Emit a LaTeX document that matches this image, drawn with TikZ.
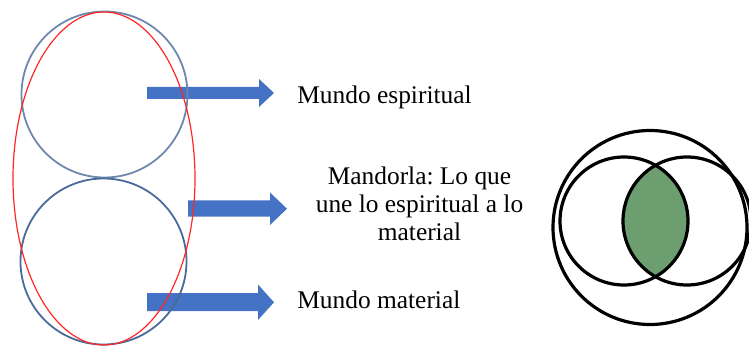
\documentclass[tikz,border=0pt]{standalone}
\usepackage{fontspec}
\setmainfont{Liberation Serif}
\definecolor{arrowblue}{HTML}{4472C4}
\definecolor{ringblue}{HTML}{4A6A9A}
\definecolor{lensgreen}{RGB}{108,158,112}
\frenchspacing
\begin{document}
\begin{tikzpicture}[x=0.5pt,y=-0.5pt,
  ring/.style={draw=ringblue,line width=0.9pt},
  blockarrow/.style={fill=arrowblue},
  wordtext/.style={font=\fontsize{12.7}{14}\selectfont,inner sep=0pt},
  bold ring/.style={draw=black,line width=1.6pt}]

\useasboundingbox (0,0) rectangle (749,347);

% arrows
\fill[blockarrow] (147,87) -- (259,87) -- (259,79) -- (274,93) -- (259,107) -- (259,99) -- (147,99) -- cycle;
\fill[blockarrow] (188,200.5) -- (270,200.5) -- (270,192.5) -- (287,208.7) -- (270,225) -- (270,216.7) -- (188,216.7) -- cycle;
\fill[blockarrow] (147,293) -- (258,293) -- (258,284.5) -- (274,302.3) -- (258,320) -- (258,311) -- (147,311) -- cycle;

% left figure
\draw[ring,draw=ringblue!80] (104.5,94.5) circle (83);
\draw[ring] (103.5,261.5) circle (83);
\draw[red!85,line width=0.6pt] (104,178.5) ellipse (91 and 166.5);

\node[wordtext,anchor=base west] (espiritual) at (297,103.3) {Mundo espiritual};
\node[wordtext,anchor=center,align=center] (mandorla) at (419.5,203.5) {Mandorla: Lo que\\une lo espiritual a lo\\material};
\node[wordtext,anchor=base west] (material) at (297,308) {Mundo material};

% right figure
\begin{scope}
\clip (624,221) circle (64);
\fill[lensgreen] (687,221) circle (64);
\end{scope}
\draw[bold ring] (650,227.5) circle (97);
\draw[bold ring] (624,221) circle (64);
\draw[bold ring] (687,221) circle (64);

\end{tikzpicture}
\end{document}
